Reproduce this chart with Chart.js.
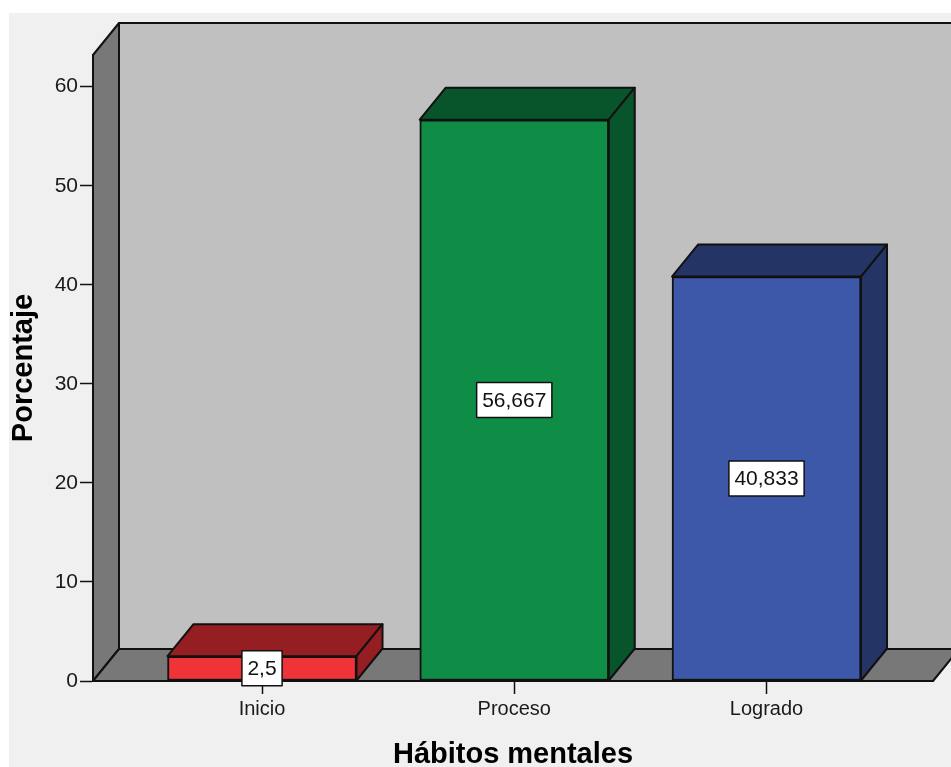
<!DOCTYPE html>
<html>
<head>
<meta charset="utf-8">
<title>Hábitos mentales</title>
<script src="https://cdn.jsdelivr.net/npm/chart.js@4.4.1/dist/chart.umd.min.js"></script>
<style>
  html, body { margin: 0; padding: 0; background: #ffffff; }
  #wrap {
    position: absolute;
    left: 9px;
    top: 13px;
    width: 942px;
    height: 754px;
    background: #f0f0f0;
  }
</style>
</head>
<body>
<div id="wrap"><canvas id="habitos-chart"></canvas></div>
<script>
// data
const categories = ['Inicio', 'Proceso', 'Logrado'];
const percentages = [2.5, 56.667, 40.833];
const yTicks = [0, 10, 20, 30, 40, 50, 60];
const yMax = 63.2;

// colours: front face / top + side faces
const frontColors = ['#ef3339', '#0f8c46', '#3e58a9'];
const shadeColors = ['#941e22', '#08552b', '#243565'];

const FONT = "'Liberation Sans', Arial, sans-serif";
const LINE = '#111111';
const depth = { dx: 26, dy: -32 };

// 2,5 style decimals
const fmt = (v) => String(v).replace('.', ',');

function face(ctx, pts, fill) {
    ctx.beginPath();
    ctx.moveTo(pts[0][0], pts[0][1]);
    for (let i = 1; i < pts.length; i++) {
        ctx.lineTo(pts[i][0], pts[i][1]);
    }
    ctx.closePath();
    ctx.fillStyle = fill;
    ctx.fill();
    ctx.stroke();
}

// draws the walls/floor behind the plot and the top/side faces of the bars
const box3d = {
    id: 'box3d',
    beforeDraw(chart) {
        const { ctx, chartArea: a } = chart;
        const { dx, dy } = depth;
        ctx.save();
        ctx.strokeStyle = LINE;
        ctx.lineWidth = 2;
        ctx.lineJoin = 'round';
        // back wall
        face(ctx, [
            [a.left + dx, a.top + dy], [a.right + dx, a.top + dy],
            [a.right + dx, a.bottom + dy], [a.left + dx, a.bottom + dy]
        ], '#c0c0c0');
        // left wall
        face(ctx, [
            [a.left, a.top], [a.left + dx, a.top + dy],
            [a.left + dx, a.bottom + dy], [a.left, a.bottom]
        ], '#787878');
        // floor
        face(ctx, [
            [a.left, a.bottom], [a.left + dx, a.bottom + dy],
            [a.right + dx, a.bottom + dy], [a.right, a.bottom]
        ], '#787878');
        ctx.restore();
    },
    afterDatasetsDraw(chart) {
        const { ctx } = chart;
        const { dx, dy } = depth;
        const meta = chart.getDatasetMeta(0);
        ctx.save();
        ctx.strokeStyle = LINE;
        ctx.lineWidth = 2;
        ctx.lineJoin = 'round';
        meta.data.forEach((bar, i) => {
            const { x, y, base, width } = bar.getProps(['x', 'y', 'base', 'width'], true);
            const l = x - width / 2;
            const r = x + width / 2;
            // top face
            face(ctx, [[l, y], [l + dx, y + dy], [r + dx, y + dy], [r, y]], shadeColors[i]);
            // right side face
            face(ctx, [[r, y], [r + dx, y + dy], [r + dx, base + dy], [r, base]], shadeColors[i]);
        });

        // value boxes in the middle of each bar
        ctx.font = '21px ' + FONT;
        ctx.textAlign = 'center';
        ctx.textBaseline = 'middle';
        ctx.lineWidth = 1.5;
        meta.data.forEach((bar, i) => {
            const { x, y, base } = bar.getProps(['x', 'y', 'base'], true);
            const text = fmt(percentages[i]);
            const w = ctx.measureText(text).width + 11;
            const h = 35;
            const cy = (y + base) / 2;
            ctx.fillStyle = '#ffffff';
            ctx.fillRect(x - w / 2, cy - h / 2, w, h);
            ctx.strokeRect(x - w / 2, cy - h / 2, w, h);
            ctx.fillStyle = '#111111';
            ctx.fillText(text, x, cy + 1);
        });
        ctx.restore();
    }
};

const ctx = document.getElementById('habitos-chart').getContext('2d');

new Chart(ctx, {
    type: 'bar',
    data: {
        datasets: [{
            data: percentages.map((v, i) => ({ x: i, y: v })),
            backgroundColor: frontColors,
            borderColor: LINE,
            borderWidth: 2,
            borderSkipped: false,
            barThickness: 189,
        }],
    },
    options: {
        responsive: true,
        maintainAspectRatio: false,
        animation: false,
        layout: {
            padding: { top: 42, right: 18, left: 0, bottom: 0 },
        },
        plugins: {
            legend: { display: false },
            tooltip: { enabled: false },
        },
        scales: {
            x: {
                type: 'linear',
                min: -0.67,
                max: 2.66,
                offset: false,
                afterBuildTicks: (scale) => {
                    scale.ticks = categories.map((c, i) => ({ value: i }));
                },
                afterFit: (scale) => {
                    scale.height = 86;
                },
                grid: {
                    offset: false,
                    drawOnChartArea: false,
                    tickLength: 13,
                    tickColor: LINE,
                    tickWidth: 1.5,
                },
                border: { color: LINE, width: 2 },
                ticks: {
                    callback: (v) => categories[v],
                    padding: 3,
                    color: '#1a1a1a',
                    font: { family: FONT, size: 20 },
                },
                title: {
                    display: true,
                    text: 'Hábitos mentales',
                    color: '#000000',
                    padding: { top: 0, bottom: -2 },
                    font: { family: FONT, size: 29, weight: 'bold', lineHeight: 1 },
                },
            },
            y: {
                min: 0,
                max: yMax,
                afterBuildTicks: (scale) => {
                    scale.ticks = yTicks.map((v) => ({ value: v }));
                },
                afterFit: (scale) => {
                    scale.width = 84;
                },
                grid: {
                    drawOnChartArea: false,
                    tickLength: 13,
                    tickColor: LINE,
                    tickWidth: 1.5,
                },
                border: { color: LINE, width: 2 },
                ticks: {
                    padding: 2,
                    color: '#1a1a1a',
                    font: { family: FONT, size: 21 },
                },
                title: {
                    display: true,
                    text: 'Porcentaje',
                    color: '#000000',
                    padding: { top: 0, bottom: 0 },
                    font: { family: FONT, size: 29, weight: 'bold', lineHeight: 1 },
                },
            },
        },
    },
    plugins: [box3d],
});
</script>
</body>
</html>
